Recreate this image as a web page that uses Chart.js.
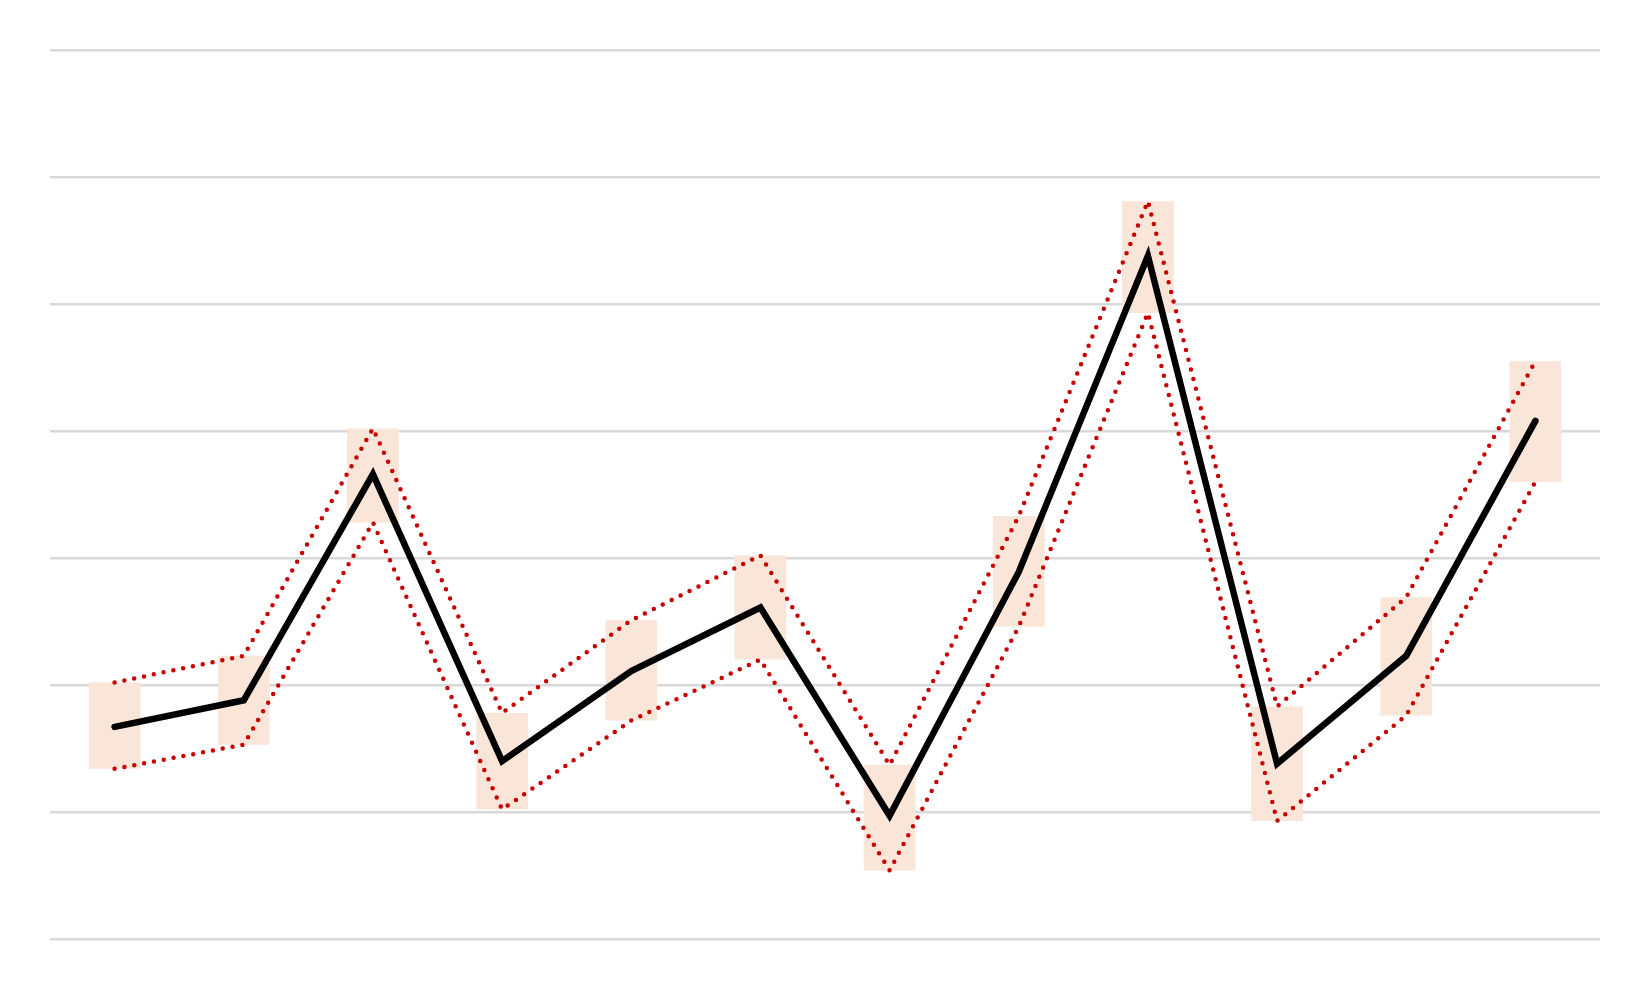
<!DOCTYPE html>
<html>
<head>
<meta charset="utf-8">
<script src="https://cdn.jsdelivr.net/npm/chart.js@4/dist/chart.umd.min.js"></script>
<style>
  html, body { margin: 0; padding: 0; background: #ffffff; }
  #wrap { width: 1650px; height: 990px; }
</style>
</head>
<body>
<div id="wrap"><canvas id="c" width="1650" height="990"></canvas></div>
<script>
const categories = ["1", "2", "3", "4", "5", "6", "7", "8", "9", "10", "11", "12"];
const mainValues = [16.7, 18.8, 36.6, 14.0, 21.1, 26.1, 9.7, 28.9, 53.8, 13.8, 22.3, 40.8];
const highValues = [20.2, 22.3, 40.2, 17.8, 25.1, 30.2, 13.7, 33.3, 58.1, 18.3, 26.9, 45.5];
const lowValues  = [13.4, 15.3, 32.8, 10.2, 17.2, 22.0, 5.4, 24.6, 49.3, 9.3, 17.6, 36.0];
const yTicks = [0, 10, 20, 30, 40, 50, 60, 70];

const rangeValues = categories.map((_, i) => [lowValues[i], highValues[i]]);

new Chart(document.getElementById('c'), {
  data: {
    labels: categories,
    datasets: [
      {
        type: 'line',
        data: mainValues,
        borderColor: '#000000',
        borderWidth: 6.5,
        borderCapStyle: 'round',
        borderJoinStyle: 'miter',
        pointRadius: 0,
        tension: 0,
        fill: false,
        order: 0
      },
      {
        type: 'line',
        data: highValues,
        borderColor: '#C80000',
        borderWidth: 4.5,
        borderDash: [0, 10],
        borderCapStyle: 'round',
        pointRadius: 0,
        tension: 0,
        fill: false,
        order: 1
      },
      {
        type: 'line',
        data: lowValues,
        borderColor: '#C80000',
        borderWidth: 4.5,
        borderDash: [0, 10],
        borderCapStyle: 'round',
        pointRadius: 0,
        tension: 0,
        fill: false,
        order: 1
      },
      {
        type: 'bar',
        data: rangeValues,
        backgroundColor: '#FAE5D9',
        borderWidth: 0,
        barPercentage: 0.4,
        categoryPercentage: 1.0,
        order: 2
      }
    ]
  },
  options: {
    responsive: false,
    animation: false,
    layout: { padding: { left: 50, right: 50, top: 50, bottom: 51 } },
    plugins: { legend: { display: false }, tooltip: { enabled: false } },
    scales: {
      x: {
        display: false,
        offset: true
      },
      y: {
        min: yTicks[0],
        max: yTicks[yTicks.length - 1],
        afterBuildTicks: (axis) => { axis.ticks = yTicks.map(v => ({ value: v })); },
        ticks: { display: false },
        border: { display: false },
        grid: { color: '#D9D9D9', lineWidth: 2.6, drawTicks: false }
      }
    }
  }
});
</script>
</body>
</html>
